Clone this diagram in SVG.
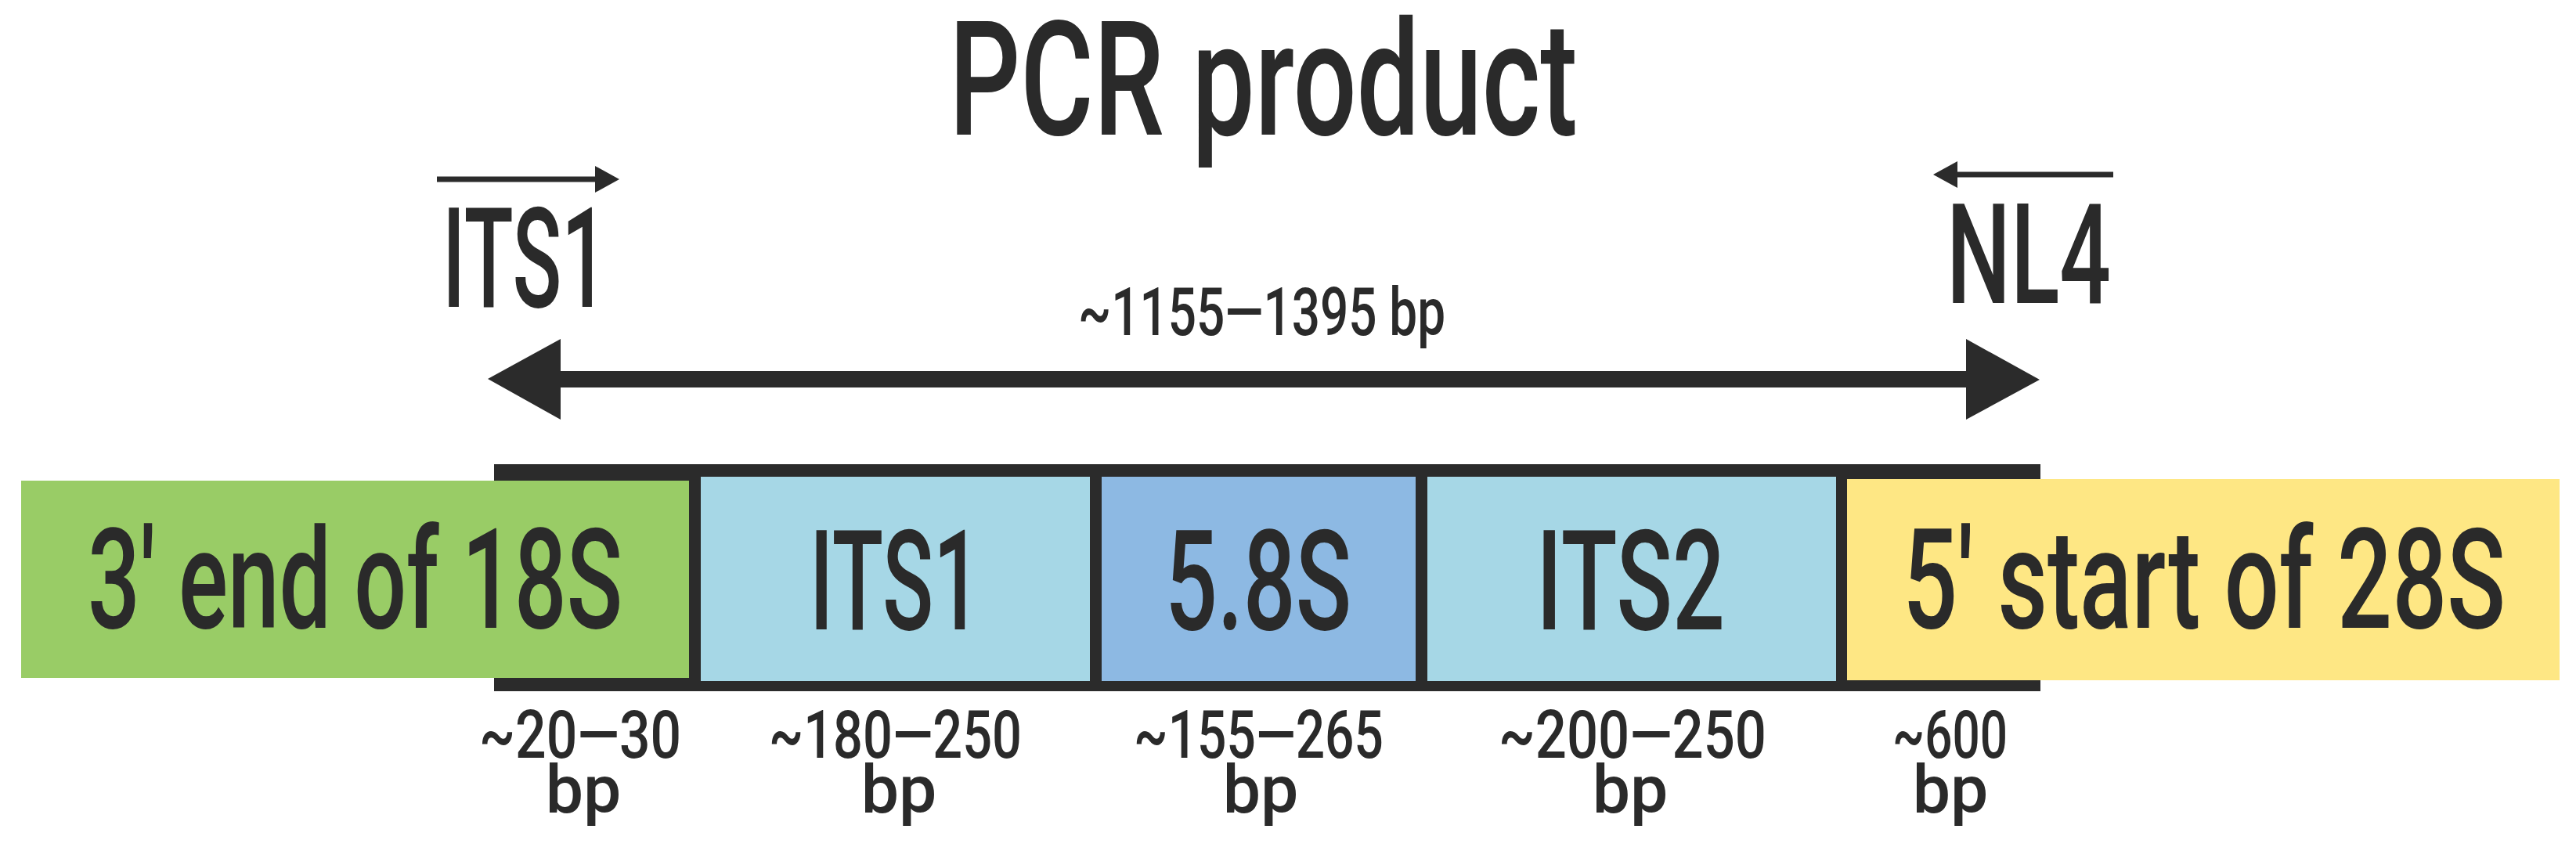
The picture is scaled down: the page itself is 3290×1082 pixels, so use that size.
<svg xmlns="http://www.w3.org/2000/svg" width="3290" height="1082" viewBox="0 0 3290 1082">
<style>
  text { font-family: Roboto, "Liberation Sans", sans-serif; font-weight: 500; fill: #2a2a2a; text-anchor: start; }
  .big { font-size: 179px; }
  .title { font-size: 204px; }
  .small { font-size: 86px; }
  .band { fill: #2b2b2b; }
  .seg18 { fill: #99cc66; }
  .segits { fill: #a6d7e6; }
  .seg58 { fill: #8db9e3; }
  .seg28 { fill: #fee784; }
  .primer { stroke: #2b2b2b; stroke-width: 7; fill: none; }
</style>
<defs>
  <marker id="head" viewBox="0 0 31 34" markerWidth="31" markerHeight="34" refX="1" refY="17" orient="auto" markerUnits="userSpaceOnUse">
    <path d="M0,0 L31,17 L0,34 Z" fill="#2b2b2b"/>
  </marker>
</defs>
<rect width="3290" height="1082" fill="#ffffff"/>

<g id="title">
  <text class="title" x="1212" y="172" textLength="803" lengthAdjust="spacingAndGlyphs">PCR product</text>
</g>

<g id="primer-its1">
  <text class="big" x="565" y="392" textLength="211" lengthAdjust="spacingAndGlyphs">ITS1</text>
</g>
<g id="primer-nl4">
  <text class="big" x="2486" y="387" textLength="210" lengthAdjust="spacingAndGlyphs">NL4</text>
</g>

<g id="connectors">
  <line class="primer" x1="558" y1="229" x2="761" y2="229" marker-end="url(#head)"/>
  <line class="primer" x1="2699" y1="223" x2="2499" y2="223" marker-end="url(#head)"/>
  <path d="M623,484 L716,433 L716,474 L2511,474 L2511,433 L2605,485 L2511,536 L2511,495 L716,495 L716,536 Z" fill="#2b2b2b"/>
  <text class="small" x="1377" y="428" textLength="469" lengthAdjust="spacingAndGlyphs">~1155—1395 bp</text>
</g>

<g id="band">
  <rect class="band" x="631" y="593" width="1975" height="290"/>
</g>

<g id="seg-18s">
  <rect class="seg18" x="27" y="614" width="853" height="252"/>
  <text class="big" x="112" y="802" textLength="683" lengthAdjust="spacingAndGlyphs">3' end of 18S</text>
  <text class="small" x="612" y="968" textLength="258" lengthAdjust="spacingAndGlyphs">~20—30</text>
  <text class="small" x="745" y="1038" text-anchor="middle" style="text-anchor:middle">bp</text>
</g>

<g id="seg-its1">
  <rect class="segits" x="895" y="609" width="497" height="261"/>
  <text class="big" x="1034" y="804" textLength="219" lengthAdjust="spacingAndGlyphs">ITS1</text>
  <text class="small" x="982" y="968" textLength="323" lengthAdjust="spacingAndGlyphs">~180—250</text>
  <text class="small" x="1148" y="1038" style="text-anchor:middle">bp</text>
</g>

<g id="seg-58s">
  <rect class="seg58" x="1407" y="609" width="401" height="261"/>
  <text class="big" x="1488" y="804" textLength="238" lengthAdjust="spacingAndGlyphs">5.8S</text>
  <text class="small" x="1448" y="968" textLength="319" lengthAdjust="spacingAndGlyphs">~155—265</text>
  <text class="small" x="1610" y="1038" style="text-anchor:middle">bp</text>
</g>

<g id="seg-its2">
  <rect class="segits" x="1823" y="609" width="522" height="261"/>
  <text class="big" x="1962" y="804" textLength="241" lengthAdjust="spacingAndGlyphs">ITS2</text>
  <text class="small" x="1914" y="968" textLength="342" lengthAdjust="spacingAndGlyphs">~200—250</text>
  <text class="small" x="2082" y="1038" style="text-anchor:middle">bp</text>
</g>

<g id="seg-28s">
  <rect class="seg28" x="2359" y="612" width="910" height="257"/>
  <text class="big" x="2430" y="802" textLength="770" lengthAdjust="spacingAndGlyphs">5' start of 28S</text>
  <text class="small" x="2417" y="968" textLength="147" lengthAdjust="spacingAndGlyphs">~600</text>
  <text class="small" x="2491" y="1038" style="text-anchor:middle">bp</text>
</g>
</svg>
